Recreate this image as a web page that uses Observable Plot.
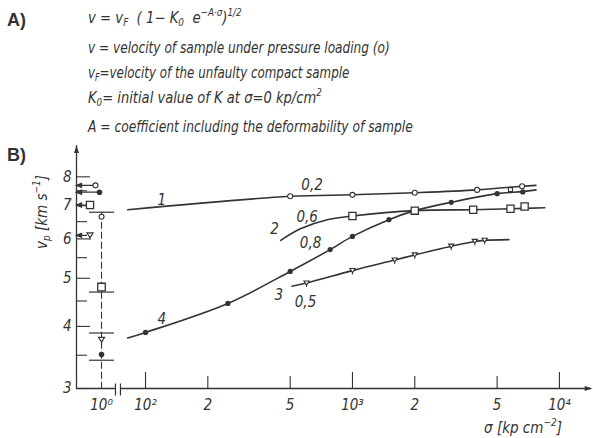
<!DOCTYPE html>
<html><head><meta charset="utf-8">
<script src="https://cdn.jsdelivr.net/npm/d3@7"></script>
<script src="https://cdn.jsdelivr.net/npm/@observablehq/plot@0.6"></script>
<style>
html,body{margin:0;padding:0;background:#fff;}
#wrap{position:relative;width:593px;height:438px;overflow:hidden;font-family:"DejaVu Sans Condensed","DejaVu Sans",sans-serif;color:#333;}
.tag{position:absolute;font-family:"Liberation Sans",Arial,sans-serif;font-weight:bold;font-size:18px;line-height:20px;}
.eq{position:absolute;left:88px;font-style:italic;font-size:15px;line-height:20px;white-space:nowrap;transform-origin:0 50%;}
.eq sub,.ttl sub{font-size:10px;vertical-align:-3px;line-height:0}
.eq sup,.ttl sup{font-size:10px;vertical-align:7px;line-height:0}
.ttl{position:absolute;font-style:italic;font-size:15px;line-height:18px;white-space:nowrap;transform:translate(-50%,-50%);}
#chart{position:absolute;left:0;top:140px;}
</style></head>
<body><div id="wrap"><div id="chart"></div></div>
<script>
// ---------- text content ----------
const partTags = ["A)", "B)"];
const formulaLines = [
  "v = v<sub>F</sub>&nbsp; ( 1\u2212 K<sub>0</sub>&nbsp; e<sup>\u2212A\u00b7\u03c3</sup>)<sup>1/2</sup>",
  "v = velocity of sample under pressure loading (o)",
  "v<sub>F</sub>=velocity of the unfaulty compact sample",
  "K<sub>0</sub>= initial value of K at \u03c3=0 kp/cm<sup>2</sup>",
  "A = coefficient including the deformability of sample"
];
const yTitleHtml = "v<sub>p</sub> [km s<sup>\u22121</sup>]";
const xTitleHtml = "\u03c3 [kp cm<sup>\u22122</sup>]";

// ---------- axis ticks ----------
const xMajorTicks = [100, 1000, 10000];
const xMinorTicks = [200, 500, 2000, 5000];
const xTickTexts = ["10\u00b2", "2", "5", "10\u00b3", "2", "5", "10\u2074"];
const xTickValues = [100, 200, 500, 1000, 2000, 5000, 10000];
const yMajorTicks = [3, 4, 5, 6, 7, 8];
const yMinorTicks = [3.5, 4.5, 5.5, 6.5, 7.5];

// ---------- series (sigma in kp/cm2, vp in km/s) ----------
// curve 1 (open circles), 0,2
const sigma1 = [82, 500, 1000, 2000, 4000, 6600, 7700];
const vp1 = [6.87, 7.31, 7.36, 7.43, 7.53, 7.66, 7.69];
const mk1Sigma = [500, 1000, 2000, 4000, 6600];
const mk1Vp = [7.31, 7.36, 7.43, 7.53, 7.66];
// curve 2 (squares), 0,6
const sigma2 = [450, 560, 755, 1000, 2000, 3830, 5800, 8500];
const vp2 = [5.96, 6.29, 6.56, 6.67, 6.84, 6.87, 6.90, 6.93];
const mk2Sigma = [1000, 2000, 3830, 5800, 6790];
const mk2Vp = [6.67, 6.84, 6.87, 6.90, 6.97];
// curve 4 (filled circles), 0,8
const sigma4 = [82, 100, 250, 500, 780, 1000, 1500, 2000, 3000, 5000, 6650, 7700];
const vp4 = [3.79, 3.89, 4.45, 5.16, 5.71, 6.07, 6.56, 6.84, 7.11, 7.40, 7.47, 7.53];
const mk4Sigma = [100, 250, 500, 780, 1000, 1500, 3000, 5000, 6650];
const mk4Vp = [3.89, 4.45, 5.16, 5.71, 6.07, 6.56, 7.11, 7.40, 7.46];
// curve 3 (triangles), 0,5
const sigma3 = [510, 600, 1000, 1600, 2000, 3000, 3900, 4350, 5700];
const vp3 = [4.82, 4.89, 5.18, 5.44, 5.57, 5.80, 5.93, 5.96, 5.98];
const mk3Sigma = [600, 1000, 1600, 2000, 3000, 3900, 4350];
const mk3Vp = [4.89, 5.18, 5.44, 5.57, 5.80, 5.93, 5.96];
// extra small square near curve end
const extraSigma = [5800];
const extraVp = [7.54];

// values at sigma = 10^0 (open circle, square, triangle, filled circle)
const zeroVp = {circle: 6.65, square: 4.80, triangle: 3.76, dot: 3.51};
const zeroCaps = [6.79, 4.69, 3.88, 3.42];
// vF values (arrows to the axis)
const vfVp = {circle: 7.69, dot: 7.45, square: 7.02, triangle: 6.10};

// curve labels
const curveLabelTexts = ["1", "0,2", "2", "0,6", "0,8", "3", "0,5", "4"];
const curveLabelSigma = [120, 638, 420, 604, 627, 440, 593, 120];
const curveLabelVp = [7.17, 7.69, 6.29, 6.63, 5.87, 4.62, 4.48, 4.14];

// ---------- layout ----------
const X_DOMAIN = [46.4, 14130];
const Y_DOMAIN = [3, 9.25];
const SIGMA0_POS = 61.3;   // where the broken axis shows 10^0
const AXIS_BREAK = 73.6;
const INK = "#333";
const FONT = "'DejaVu Sans Condensed','DejaVu Sans',sans-serif";

const wrap = document.getElementById("wrap");
function addDiv(cls, html, css) {
  const d = document.createElement("div");
  d.className = cls; d.innerHTML = html; Object.assign(d.style, css);
  wrap.appendChild(d); return d;
}
const tagTops = [10, 145];
partTags.forEach((t, i) => addDiv("tag", t, {left: "7px", top: tagTops[i] + "px"}));
const lineCenters = [18, 48, 73, 98, 127];
const lineScale = [0.98, 0.90, 0.88, 0.97, 0.91];
formulaLines.forEach((h, i) => addDiv("eq", h, {top: (lineCenters[i] - 10) + "px", transform: `scaleX(${lineScale[i]})`}));
addDiv("ttl", yTitleHtml, {left: "42px", top: "212px", transform: "translate(-50%,-50%) rotate(-90deg)"});
addDiv("ttl", xTitleHtml, {left: "523px", top: "428px"});

// ---------- custom symbols ----------
const sym = f => ({draw(c, size) { f(c, Math.sqrt(size / Math.PI)); }});
const triDown = sym((c, r) => { c.moveTo(-r, -r * 0.8); c.lineTo(r, -r * 0.8); c.lineTo(0, r * 0.8); c.closePath(); c.moveTo(0, r * 0.8); c.lineTo(0, r * 1.5); });
const squareSym = sym((c, r) => { c.rect(-r, -r, 2 * r, 2 * r); });
const upHead = sym((c, r) => { c.moveTo(0, 0); c.lineTo(-r, 3 * r); c.lineTo(r, 3 * r); c.closePath(); });
const rightHead = sym((c, r) => { c.moveTo(0, 0); c.lineTo(-3 * r, -r); c.lineTo(-3 * r, r); c.closePath(); });
const leftArrow = L => sym((c, r) => { c.moveTo(0, 0); c.lineTo(5, -2); c.lineTo(5, 2); c.closePath(); c.moveTo(0, 0); c.lineTo(L, 0); });
const hLine = sym((c, r) => { c.moveTo(-r, 0); c.lineTo(r, 0); });
const gapSym = sym((c, r) => { c.rect(-2.5, -3, 5, 6); });
const breakSym = sym((c, r) => { c.moveTo(-2.5, -5); c.lineTo(-2.5, 7); c.moveTo(2.5, -5); c.lineTo(2.5, 7); });

const rows = (xs, ys) => xs.map((s, i) => ({s, v: ys[i]}));
const X0 = X_DOMAIN[0], Y0 = Y_DOMAIN[0];
const lineOpts = {x: "s", y: "v", curve: "catmull-rom", stroke: INK, strokeWidth: 1.6};
const txt = {fontSize: 15, fontStyle: "italic", fill: INK};

const chart = Plot.plot({
  width: 593, height: 298,
  marginLeft: 76, marginRight: 3, marginTop: 5, marginBottom: 50,
  x: {type: "log", domain: X_DOMAIN, axis: null},
  y: {type: "log", domain: Y_DOMAIN, axis: null},
  style: {background: "transparent", fontFamily: FONT, color: INK},
  marks: [
    // axes
    Plot.ruleY([Y0], {stroke: INK, strokeWidth: 1.3}),
    Plot.ruleX([X0], {stroke: INK, strokeWidth: 1.3}),
    Plot.dot([0], {x: () => X0, y: () => Y_DOMAIN[1], symbol: upHead, r: 2.5, fill: INK, stroke: "none"}),
    Plot.dot([0], {x: () => X_DOMAIN[1], y: () => Y0, symbol: rightHead, r: 2.6, fill: INK, stroke: "none", dx: 2}),
    Plot.dot([0], {x: () => AXIS_BREAK, y: () => Y0, symbol: gapSym, fill: "white", stroke: "none"}),
    Plot.dot([0], {x: () => AXIS_BREAK, y: () => Y0, symbol: breakSym, fill: "none", stroke: INK, strokeWidth: 1.2}),
    Plot.tickX(xMajorTicks, {x: d => d, insetTop: 227, stroke: INK, strokeWidth: 1.1}),
    Plot.tickX(xMinorTicks, {x: d => d, insetTop: 231, stroke: INK, strokeWidth: 1.1}),
    Plot.tickY(yMajorTicks, {y: d => d, insetRight: 500, stroke: INK, strokeWidth: 1.1}),
    Plot.tickY(yMinorTicks, {y: d => d, insetRight: 503, stroke: INK, strokeWidth: 1.1}),
    Plot.text(xTickValues, {x: d => d, text: (d, i) => xTickTexts[i], frameAnchor: "bottom", lineAnchor: "middle", textAnchor: "middle", dy: 17, ...txt}),
    Plot.text([0], {x: () => SIGMA0_POS, text: () => "10\u2070", frameAnchor: "bottom", lineAnchor: "middle", textAnchor: "middle", dy: 17, ...txt}),
    Plot.text(yMajorTicks, {y: d => d, text: d => String(d), frameAnchor: "left", textAnchor: "end", lineAnchor: "middle", dx: -5, ...txt}),

    // column at 10^0
    Plot.ruleX([SIGMA0_POS], {y1: zeroCaps[0], y2: Y0, stroke: INK, strokeWidth: 1.1, strokeDasharray: "7,3"}),
    Plot.dot(zeroCaps, {x: () => SIGMA0_POS, y: d => d, symbol: hLine, r: 12.5, stroke: INK, strokeWidth: 1.2, fill: "none"}),
    Plot.dot([zeroVp.circle], {x: () => SIGMA0_POS, y: d => d, r: 2.5, fill: "white", stroke: INK, strokeWidth: 1.1}),
    Plot.dot([zeroVp.square], {x: () => SIGMA0_POS, y: d => d, symbol: squareSym, r: 3.8, fill: "white", stroke: INK, strokeWidth: 1.3}),
    Plot.dot([zeroVp.triangle], {x: () => SIGMA0_POS, y: d => d, symbol: triDown, r: 3, fill: "white", stroke: INK, strokeWidth: 1.2}),
    Plot.dot([zeroVp.dot], {x: () => SIGMA0_POS, y: d => d, r: 2.8, fill: INK, stroke: "none"}),

    // vF arrows
    Plot.dot([vfVp.circle], {x: () => X0, y: d => d, symbol: leftArrow(16.5), fill: INK, stroke: INK, strokeWidth: 1.3}),
    Plot.dot([vfVp.circle], {x: () => X0, y: d => d, dx: 19, r: 2.5, fill: "white", stroke: INK, strokeWidth: 1.1}),
    Plot.dot([vfVp.dot], {x: () => X0, y: d => d, symbol: leftArrow(21), fill: INK, stroke: INK, strokeWidth: 1.3}),
    Plot.dot([vfVp.dot], {x: () => X0, y: d => d, dx: 23, r: 2.8, fill: INK, stroke: "none"}),
    Plot.dot([vfVp.square], {x: () => X0, y: d => d, symbol: leftArrow(10), fill: INK, stroke: INK, strokeWidth: 1.3}),
    Plot.dot([vfVp.square], {x: () => X0, y: d => d, dx: 13.5, symbol: squareSym, r: 3.6, fill: "white", stroke: INK, strokeWidth: 1.3}),
    Plot.dot([vfVp.triangle], {x: () => X0, y: d => d, symbol: leftArrow(10.5), fill: INK, stroke: INK, strokeWidth: 1.3}),
    Plot.dot([vfVp.triangle], {x: () => X0, y: d => d, dx: 13.5, symbol: triDown, r: 3, fill: "white", stroke: INK, strokeWidth: 1.2}),

    // curves
    Plot.line(rows(sigma1, vp1), lineOpts),
    Plot.line(rows(sigma2, vp2), lineOpts),
    Plot.line(rows(sigma4, vp4), lineOpts),
    Plot.line(rows(sigma3, vp3), lineOpts),
    Plot.dot(rows(mk1Sigma, mk1Vp), {x: "s", y: "v", r: 2.5, fill: "white", stroke: INK, strokeWidth: 1.1}),
    Plot.dot(rows(mk2Sigma, mk2Vp), {x: "s", y: "v", symbol: squareSym, r: 3.6, fill: "white", stroke: INK, strokeWidth: 1.3}),
    Plot.dot(rows(mk4Sigma, mk4Vp), {x: "s", y: "v", r: 2.6, fill: INK, stroke: "none"}),
    Plot.dot(rows(mk3Sigma, mk3Vp), {x: "s", y: "v", symbol: triDown, r: 2.6, fill: "white", stroke: INK, strokeWidth: 1.1}),
    Plot.dot(rows(extraSigma, extraVp), {x: "s", y: "v", symbol: squareSym, r: 2, fill: "white", stroke: INK, strokeWidth: 1.1}),

    // curve labels
    Plot.text(curveLabelTexts, {x: (d, i) => curveLabelSigma[i], y: (d, i) => curveLabelVp[i], text: d => d, ...txt})
  ]
});
document.getElementById("chart").appendChild(chart);
</script></body></html>
